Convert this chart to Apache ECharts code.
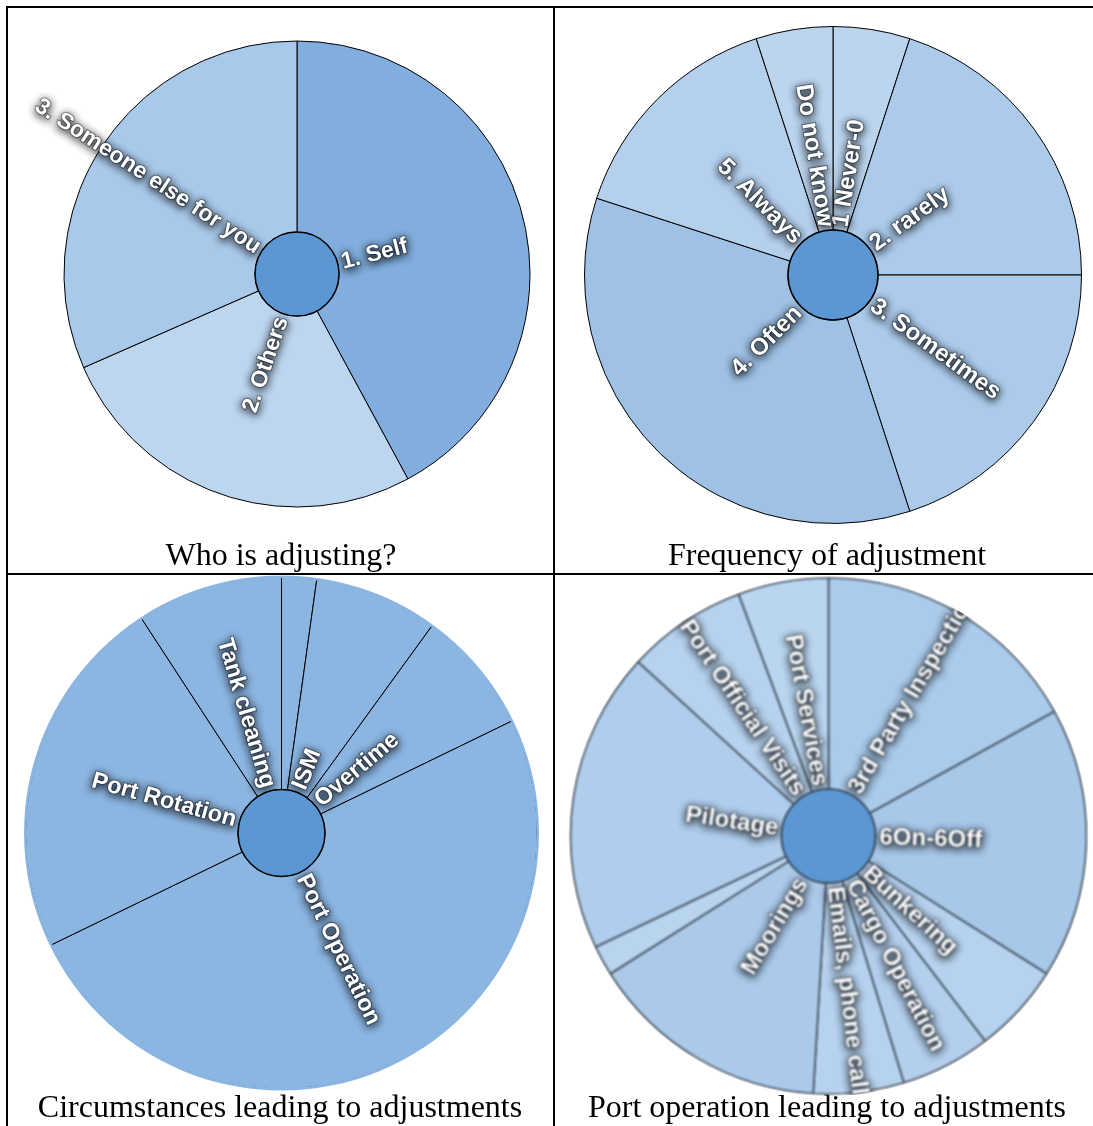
<!DOCTYPE html>
<html>
<head>
<meta charset="utf-8">
<title>Adjustments survey</title>
<script src="https://cdn.jsdelivr.net/npm/echarts@6/dist/echarts.min.js"></script>
<style>
  html, body { margin: 0; padding: 0; background: #ffffff; }
  #main { position: absolute; left: 0; top: 0; width: 1093px; height: 1126px; }
  /* the port-operation panel is drawn on its own layer, softened and clipped to its disc */
  #ports { position: absolute; left: 555px; top: 575px; width: 538px; height: 551px;
           filter: blur(0.9px); clip-path: circle(260px at 273.5px 261px); }
</style>
</head>
<body>
<div id="main"></div>
<div id="ports"></div>
<script>
// ---- data ---------------------------------------------------------------
// Who is adjusting? (respondents)
const whoNames  = ['1. Self', '2. Others', '3. Someone else for you'];
const whoValues = [8, 5, 6];

// Frequency of adjustment (respondents)
const freqNames  = ['1 Never-0', '2. rarely', '3. Sometimes', '4. Often', '5. Always', 'Do not know'];
const freqValues = [1, 4, 4, 7, 3, 1];

// Circumstances leading to adjustments (% of answers)
const circNames  = ['Other', 'ISM', 'Overtime', 'Port Operation', 'Port Rotation', 'Tank cleaning'];
const circValues = [2.2, 7.8, 7.8, 50, 23, 9.2];

// Port operation leading to adjustments (answers)
const portNames  = ['3rd Party Inspection', '6On-6Off', 'Bunkering', 'Cargo Operation',
                    'Emails, phone calls', 'Moorings', 'Other', 'Pilotage',
                    'Port Official Visits', 'Port Services'];
const portValues = [9, 9, 3, 3, 3, 8, 1, 10, 4, 3];

const panelTitles = ['Who is adjusting?', 'Frequency of adjustment',
                     'Circumstances leading to adjustments', 'Port operation leading to adjustments'];

// ---- palettes -----------------------------------------------------------
const whoColors  = ['#81aede', '#bdd6ef', '#a9c9ea'];
const freqColors = ['#bbd5ef', '#accbeb', '#accbeb', '#9fc1e5', '#b4d0ed', '#bbd5ef'];
const circColors = circNames.map(() => '#8cb6e2');
const portColors = ['#abcbeb', '#a8c8e9', '#b6d2ee', '#b3cfed', '#b6d2ee',
                    '#abcaea', '#b9d4ef', '#afcdec', '#b6d2ee', '#b9d5ef'];
const hubColor = '#5b97d3';

// ---- helpers ------------------------------------------------------------
function labelStyle(size) {
  return {
    show: true, rotate: 'radial', align: 'left', distance: 4, minAngle: 10,
    color: '#ffffff', fontFamily: '"Liberation Sans", Arial, sans-serif',
    fontWeight: 'bold', fontSize: size,
    textBorderColor: 'rgba(20,30,45,0.45)', textBorderWidth: 2,
    textShadowColor: '#000000', textShadowBlur: 9,
    textShadowOffsetX: 0, textShadowOffsetY: 2
  };
}

function ring(names, values, colors, cx, cy, r0, r, stroke, strokeWidth, size) {
  return {
    type: 'sunburst', center: [cx, cy], radius: [r0, r], sort: null,
    startAngle: 90, nodeClick: false, animation: false,
    emphasis: { disabled: true },
    itemStyle: { borderColor: stroke, borderWidth: strokeWidth },
    label: labelStyle(size),
    data: names.map((n, i) => ({ name: n, value: values[i], itemStyle: { color: colors[i] } }))
  };
}

function hub(cx, cy, r, stroke, strokeWidth) {
  return {
    type: 'pie', center: [cx, cy], radius: [0, r], silent: true, animation: false, z: 5,
    label: { show: false }, labelLine: { show: false },
    itemStyle: { color: hubColor, borderColor: stroke, borderWidth: strokeWidth },
    data: [{ value: 1, name: 'hub' }]
  };
}

// plain rim that hides the outline of the outer arc
function rim(cx, cy, r, color) {
  return {
    type: 'pie', center: [cx, cy], radius: [r - 1, r + 1.5], silent: true, animation: false, z: 4,
    label: { show: false }, labelLine: { show: false },
    itemStyle: { color: color, borderWidth: 0 },
    data: [{ value: 1, name: 'rim' }]
  };
}

function titleAt(text, x, y) {
  return {
    text: text, left: x, top: y, textAlign: 'center', padding: 0,
    textStyle: { fontFamily: '"Liberation Serif", "Times New Roman", serif',
                 fontWeight: 'normal', fontSize: 32, color: '#000000' }
  };
}

function rule(x1, y1, x2, y2) {
  return { type: 'line', silent: true, z: 10,
           shape: { x1: x1, y1: y1, x2: x2, y2: y2 },
           style: { stroke: '#000000', lineWidth: 2 } };
}

// ---- main sheet: table, titles and three panels -------------------------
const main = echarts.init(document.getElementById('main'), null, { renderer: 'canvas' });
main.setOption({
  backgroundColor: '#ffffff',
  animation: false,
  title: [
    titleAt(panelTitles[0], 281, 541),
    titleAt(panelTitles[1], 827, 541),
    titleAt(panelTitles[2], 280, 1093),
    titleAt(panelTitles[3], 827, 1093)
  ],
  graphic: [
    rule(6, 7, 1093, 7),
    rule(7, 6, 7, 1126),
    rule(554, 6, 554, 1126),
    rule(6, 574, 1093, 574)
  ],
  series: [
    ring(whoNames, whoValues, whoColors, 297, 274, 42, 233, '#000000', 1, 23),
    hub(297, 274, 42, '#000000', 1.5),
    ring(freqNames, freqValues, freqColors, 833, 275, 45, 248.5, '#000000', 1, 24),
    hub(833, 275, 45, '#000000', 1.5),
    ring(circNames, circValues, circColors, 281.5, 833, 43.5, 256, '#000000', 1, 23.5),
    rim(281.5, 833, 256, circColors[0]),
    hub(281.5, 833, 43.5, '#000000', 1.5)
  ]
});

// ---- port operation panel ------------------------------------------------
const ports = echarts.init(document.getElementById('ports'), null, { renderer: 'canvas' });
ports.setOption({
  animation: false,
  series: [
    ring(portNames, portValues, portColors, 273.5, 261, 47, 258, '#3e4b58', 1.6, 24),
    hub(273.5, 261, 47, '#2f3b47', 1.6)
  ]
});
</script>
</body>
</html>
